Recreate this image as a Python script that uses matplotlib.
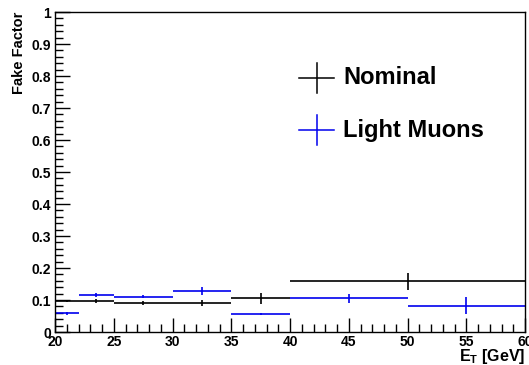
import matplotlib
matplotlib.use('Agg')
import matplotlib.pyplot as plt
from matplotlib.ticker import MultipleLocator

plt.rcParams['font.family'] = ['Liberation Sans', 'DejaVu Sans']
plt.rcParams['font.weight'] = 'bold'
plt.rcParams['mathtext.fontset'] = 'custom'
plt.rcParams['mathtext.rm'] = 'Liberation Sans:bold'
plt.rcParams['mathtext.bf'] = 'Liberation Sans:bold'

# nominal fake factor, bins in E_T [GeV]
nom_lo = [20, 22, 25, 30, 35, 40]
nom_hi = [22, 25, 30, 35, 40, 60]
nom_val = [0.097, 0.097, 0.090, 0.090, 0.105, 0.158]
nom_err = [0.003, 0.005, 0.006, 0.009, 0.016, 0.026]

# light muons fake factor
lm_lo = [20, 22, 25, 30, 35, 40, 50]
lm_hi = [22, 25, 30, 35, 40, 50, 60]
lm_val = [0.058, 0.116, 0.110, 0.129, 0.056, 0.105, 0.082]
lm_err = [0.004, 0.006, 0.005, 0.013, 0.004, 0.014, 0.026]

labels = ['Nominal', 'Light Muons']
colors = ['black', '#0000ee']


def centers(lo, hi):
    x = [(a + b) / 2.0 for a, b in zip(lo, hi)]
    xe = [(b - a) / 2.0 for a, b in zip(lo, hi)]
    return x, xe


fig = plt.figure(figsize=(5.29, 3.65), dpi=100)
ax = fig.add_axes([0.104, 0.0904, 0.8886, 0.8767])

x, xe = centers(nom_lo, nom_hi)
ax.errorbar(x, nom_val, xerr=xe, yerr=nom_err, fmt='none', ecolor=colors[0], elinewidth=1.2, capsize=0)
x, xe = centers(lm_lo, lm_hi)
ax.errorbar(x, lm_val, xerr=xe, yerr=lm_err, fmt='none', ecolor=colors[1], elinewidth=1.2, capsize=0)

ax.set_xlim(20, 60)
ax.set_ylim(0, 1)
ax.xaxis.set_major_locator(MultipleLocator(5))
ax.xaxis.set_minor_locator(MultipleLocator(1))
ax.yaxis.set_major_locator(MultipleLocator(0.1))
ax.yaxis.set_minor_locator(MultipleLocator(0.02))
ax.set_yticks([0, 0.1, 0.2, 0.3, 0.4, 0.5, 0.6, 0.7, 0.8, 0.9, 1.0])
ax.set_yticklabels(['0', '0.1', '0.2', '0.3', '0.4', '0.5', '0.6', '0.7', '0.8', '0.9', '1'])
ax.tick_params(which='both', direction='in', top=False, right=False, labelsize=10, width=1.0)
ax.tick_params(axis='y', which='major', length=11, pad=3)
ax.tick_params(axis='y', which='minor', length=6)
ax.tick_params(axis='x', which='major', length=10, pad=2)
ax.tick_params(axis='x', which='minor', length=6)
for s in ax.spines.values():
    s.set_linewidth(1.0)

ax.set_ylabel('Fake Factor', fontsize=10.5, fontweight='bold', loc='top', labelpad=3.5)
ax.set_xlabel(r'E$_\mathregular{T}$ [GeV]', fontsize=11.5, fontweight='bold', loc='right', labelpad=-1)

# legend drawn ROOT style
leg_y = [0.794, 0.631]
for i in range(2):
    ax.plot([0.520, 0.594], [leg_y[i], leg_y[i]], color=colors[i], lw=1.1, transform=ax.transAxes)
    ax.plot([0.557, 0.557], [leg_y[i] - 0.048, leg_y[i] + 0.048], color=colors[i], lw=1.1, transform=ax.transAxes)
    ax.text(0.613, leg_y[i], labels[i], transform=ax.transAxes, fontsize=17, fontweight='bold', va='center', ha='left')

fig.savefig('out.png', dpi=100)
